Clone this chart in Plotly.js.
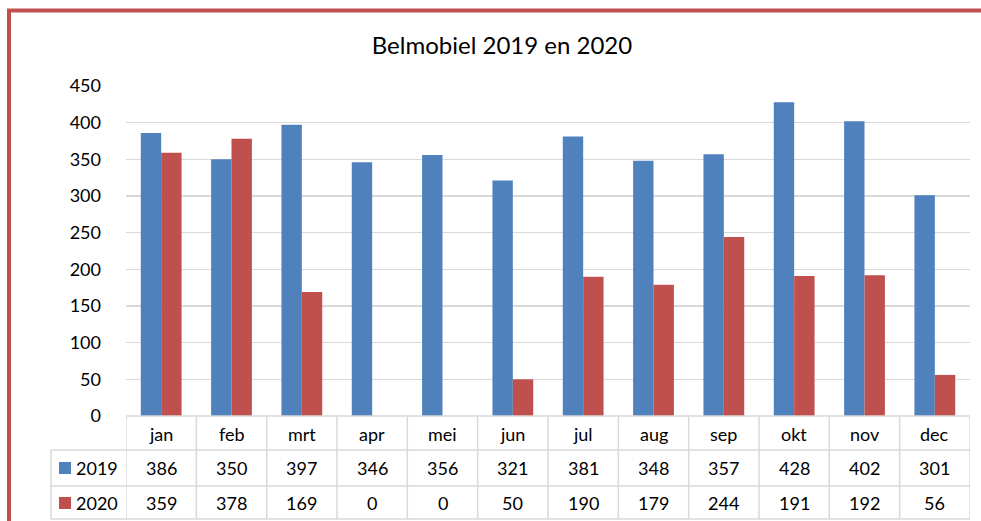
<!DOCTYPE html>
<html>
<head>
<meta charset="utf-8">
<script src="https://cdn.plot.ly/plotly-3.0.1.min.js"></script>
<style>html,body{margin:0;padding:0;background:#fff;}#chart{width:981px;height:521px;}</style>
</head>
<body>
<div id="chart"></div>
<script>
var months = ["jan","feb","mrt","apr","mei","jun","jul","aug","sep","okt","nov","dec"];
var series2019 = [386,350,397,346,356,321,381,348,357,428,402,301];
var series2020 = [359,378,169,0,0,50,190,179,244,191,192,56];
var seriesNames = ["2019","2020"];
var yTicks = [0,50,100,150,200,250,300,350,400,450];

var BLUE = "#4F81BD", RED = "#C0504D", GRID = "#D9D9D9";
var FONT = "Lato, 'Open Sans', sans-serif";
var W = 981, H = 521;
var L = 126, R = 970, T = 86, B = 416;
function px(x){ return (x - L) / (R - L); }
function py(y){ return (B - y) / (B - T); }

var traces = [
  {type:"bar", x: months, y: series2019, name: seriesNames[0], marker:{color:BLUE, line:{width:0}}},
  {type:"bar", x: months, y: series2020, name: seriesNames[1], marker:{color:RED, line:{width:0}}}
];

var shapes = [];
var annotations = [];
function line(x0,y0,x1,y1,xref,color,width){
  shapes.push({type:"line", xref:xref||"paper", yref:"paper", x0:x0, y0:y0, x1:x1, y1:y1,
    line:{color:color||GRID, width:width||1.5}});
}
// table horizontal lines
line(px(L), py(416), px(R), py(416));
[450, 486, 519].forEach(function(y){ line(px(51), py(y), px(R), py(y)); });
// vertical lines at category boundaries
for (var i = 0; i <= months.length; i++) {
  line(i - 0.5, py(416), i - 0.5, py(519), "x");
}
// legend column left line
line(px(51), py(450), px(51), py(519));

// category labels and values
var rows = [series2019, series2020];
var rowY = [468, 503];
months.forEach(function(m, i){
  annotations.push({xref:"x", yref:"paper", x:m, y:py(434), text:m, showarrow:false,
    xanchor:"center", yanchor:"middle", font:{family:FONT, size:18, color:"#000"}});
  rows.forEach(function(r, k){
    annotations.push({xref:"x", yref:"paper", x:m, y:py(rowY[k]), text:String(r[i]), showarrow:false,
      xanchor:"center", yanchor:"middle", font:{family:FONT, size:18, color:"#000"}});
  });
});
// legend keys
var keyColors = [BLUE, RED];
seriesNames.forEach(function(n, k){
  var yc = rowY[k];
  shapes.push({type:"rect", xref:"paper", yref:"paper", x0:px(59), x1:px(71), y0:py(yc-6), y1:py(yc+6),
    fillcolor:keyColors[k], line:{width:0}});
  annotations.push({xref:"paper", yref:"paper", x:px(74), y:py(yc), text:n, showarrow:false,
    xanchor:"left", yanchor:"middle", font:{family:FONT, size:18, color:"#000"}});
});
// red frame
shapes.push({type:"line", xref:"paper", yref:"paper", x0:px(7), x1:px(981), y0:py(10.5), y1:py(10.5),
  line:{color:RED, width:4}});
shapes.push({type:"line", xref:"paper", yref:"paper", x0:px(9), x1:px(9), y0:py(9), y1:py(521),
  line:{color:RED, width:4}});

var layout = {
  width: W, height: H,
  margin: {l:L, r:W-R, t:T, b:H-B, pad:0},
  paper_bgcolor:"#fff", plot_bgcolor:"#fff",
  title: {text:"Belmobiel 2019 en 2020", x:502/W, xref:"container", xanchor:"center", y:1-46/H, yanchor:"middle",
    font:{family:FONT, size:24, color:"#000"}},
  showlegend:false,
  barmode:"group", bargap:0.42, bargroupgap:0,
  xaxis:{type:"category", showticklabels:false, showgrid:false, zeroline:false, showline:false, ticks:"",
    range:[-0.5, 11.5], fixedrange:true},
  yaxis:{range:[0,450], tickvals:yTicks, showgrid:true, gridcolor:GRID, gridwidth:1.5, zeroline:false,
    showline:false, ticks:"", ticklabelstandoff:24, tickfont:{family:FONT, size:18, color:"#000"}},
  shapes: shapes,
  annotations: annotations
};

Plotly.newPlot("chart", traces, layout, {staticPlot:true, displayModeBar:false});
</script>
</body>
</html>
